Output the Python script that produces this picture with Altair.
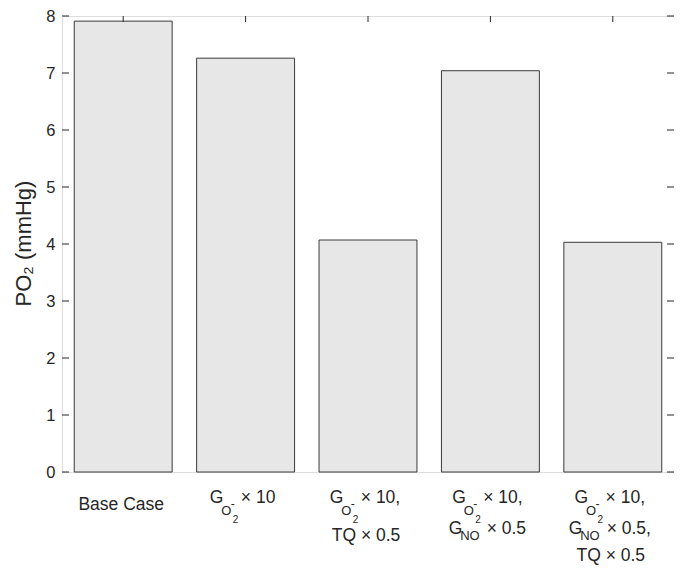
import altair as alt
import pandas as pd

# ---- data ----
cases = ["c1", "c2", "c3", "c4", "c5"]
po2 = [7.91, 7.26, 4.07, 7.04, 4.03]
y_ticks = [0, 1, 2, 3, 4, 5, 6, 7, 8]
# tick label lines: ("plain", text) | ("go2", tail) -> G_{O2^-} tail | ("gno", tail) -> G_{NO} tail
label_lines = [
    [("plain", "Base Case")],
    [("go2", "× 10")],
    [("go2", "× 10,"), ("plain", "TQ × 0.5")],
    [("go2", "× 10,"), ("gno", "× 0.5")],
    [("go2", "× 10,"), ("gno", "× 0.5,"), ("plain", "TQ × 0.5")],
]
y_title = "PO₂ (mmHg)"

# ---- layout ----
W, H = 612, 456
INK = "#262626"
FS, FSUB, FSS = 17.5, 13, 10
HB = 0.8 * W / 5 / 2  # half bandwidth (xOffset is measured from band start)
CW = {"×": 0.584, " ": 0.278, ",": 0.278, ".": 0.278}


def text_w(t, fs):
    return sum(CW.get(c, 0.556) for c in t) * fs


segs = []
for case, lines in zip(cases, label_lines):
    for row, (kind, txt) in enumerate(lines):
        if kind == "plain":
            yb = {0: 38, 1: 69, 2: 89}[row]
            segs.append(dict(case=case, text=txt, xo=HB - 2, yb=H + yb, fs=FS, al="c"))
        elif kind == "go2":
            w = 31 + text_w(txt, FS)
            s = HB - w / 2 - 3
            b = H + 31
            segs += [
                dict(case=case, text="G", xo=s, yb=b, fs=FS, al="l"),
                dict(case=case, text="O", xo=s + 11.5, yb=b + 12, fs=FSUB, al="l"),
                dict(case=case, text="-", xo=s + 21, yb=b + 5, fs=12, al="l"),
                dict(case=case, text="2", xo=s + 23, yb=b + 20, fs=FSS, al="l"),
                dict(case=case, text=txt, xo=s + 31, yb=b, fs=FS, al="l"),
            ]
        else:
            w = 38 + text_w(txt, FS)
            s = HB - w / 2 - 3
            b = H + 62
            segs += [
                dict(case=case, text="G", xo=s, yb=b, fs=FS, al="l"),
                dict(case=case, text="NO", xo=s + 11.5, yb=b + 6, fs=FSUB, al="l"),
                dict(case=case, text=txt, xo=s + 38, yb=b, fs=FS, al="l"),
            ]
seg_df = pd.DataFrame(segs)

bars_df = pd.DataFrame({"case": cases, "po2": po2})
ticks_df = pd.DataFrame({"t": y_ticks})

xscale = alt.Scale(domain=cases, paddingInner=0.2, paddingOuter=0.1)
yscale = alt.Scale(domain=[0, 8], nice=False, zero=True)

bars = alt.Chart(bars_df).mark_bar(
    fill="#e6e7e6", stroke="#3a3a3a", strokeWidth=1
).encode(
    x=alt.X("case:N", scale=xscale, axis=None, sort=cases),
    y=alt.Y(
        "po2:Q",
        scale=yscale,
        axis=alt.Axis(
            values=y_ticks, format="d", ticks=False, domain=False, grid=False,
            labelFontSize=16.5, labelPadding=7, labelColor=INK,
            labelFont="Liberation Sans",
            title=y_title, titleFontSize=22, titleFont="Liberation Sans",
            titleFontWeight="normal", titleColor=INK,
            titleAngle=270, titleAlign="center", titleBaseline="alphabetic",
            titleX=-32, titleY=227,
        ),
    ),
)

ytick_l = alt.Chart(ticks_df).mark_rule(color=INK, strokeWidth=1).encode(
    y=alt.Y("t:Q", scale=yscale), x=alt.value(0), x2=alt.value(7)
)
ytick_r = alt.Chart(ticks_df).mark_rule(color=INK, strokeWidth=1).encode(
    y=alt.Y("t:Q", scale=yscale), x=alt.value(W - 7), x2=alt.value(W)
)
xtick_top = alt.Chart(bars_df).mark_rule(color=INK, strokeWidth=1).encode(
    x=alt.X("case:N", scale=xscale, sort=cases), y=alt.value(0), y2=alt.value(6)
)


def text_layer(al, align):
    return alt.Chart(seg_df[seg_df["al"] == al]).mark_text(
        align=align, baseline="alphabetic", font="Liberation Sans", color=INK
    ).encode(
        x=alt.X("case:N", scale=xscale, sort=cases),
        xOffset=alt.XOffset("xo:Q", scale=None),
        y=alt.Y("yb:Q", scale=None, axis=None),
        size=alt.Size("fs:Q", scale=None, legend=None),
        text="text:N",
    )


chart = alt.layer(
    bars, ytick_l, ytick_r, xtick_top, text_layer("l", "left"), text_layer("c", "center")
).properties(
    width=W, height=H,
    autosize=alt.AutoSizeParams(type="none"),
    padding={"left": 54, "top": 8, "right": 0, "bottom": 93},
).configure_view(stroke=INK, strokeWidth=1).configure(background="white")

chart.save("out.html", embed_options={"renderer": "svg", "actions": False})
